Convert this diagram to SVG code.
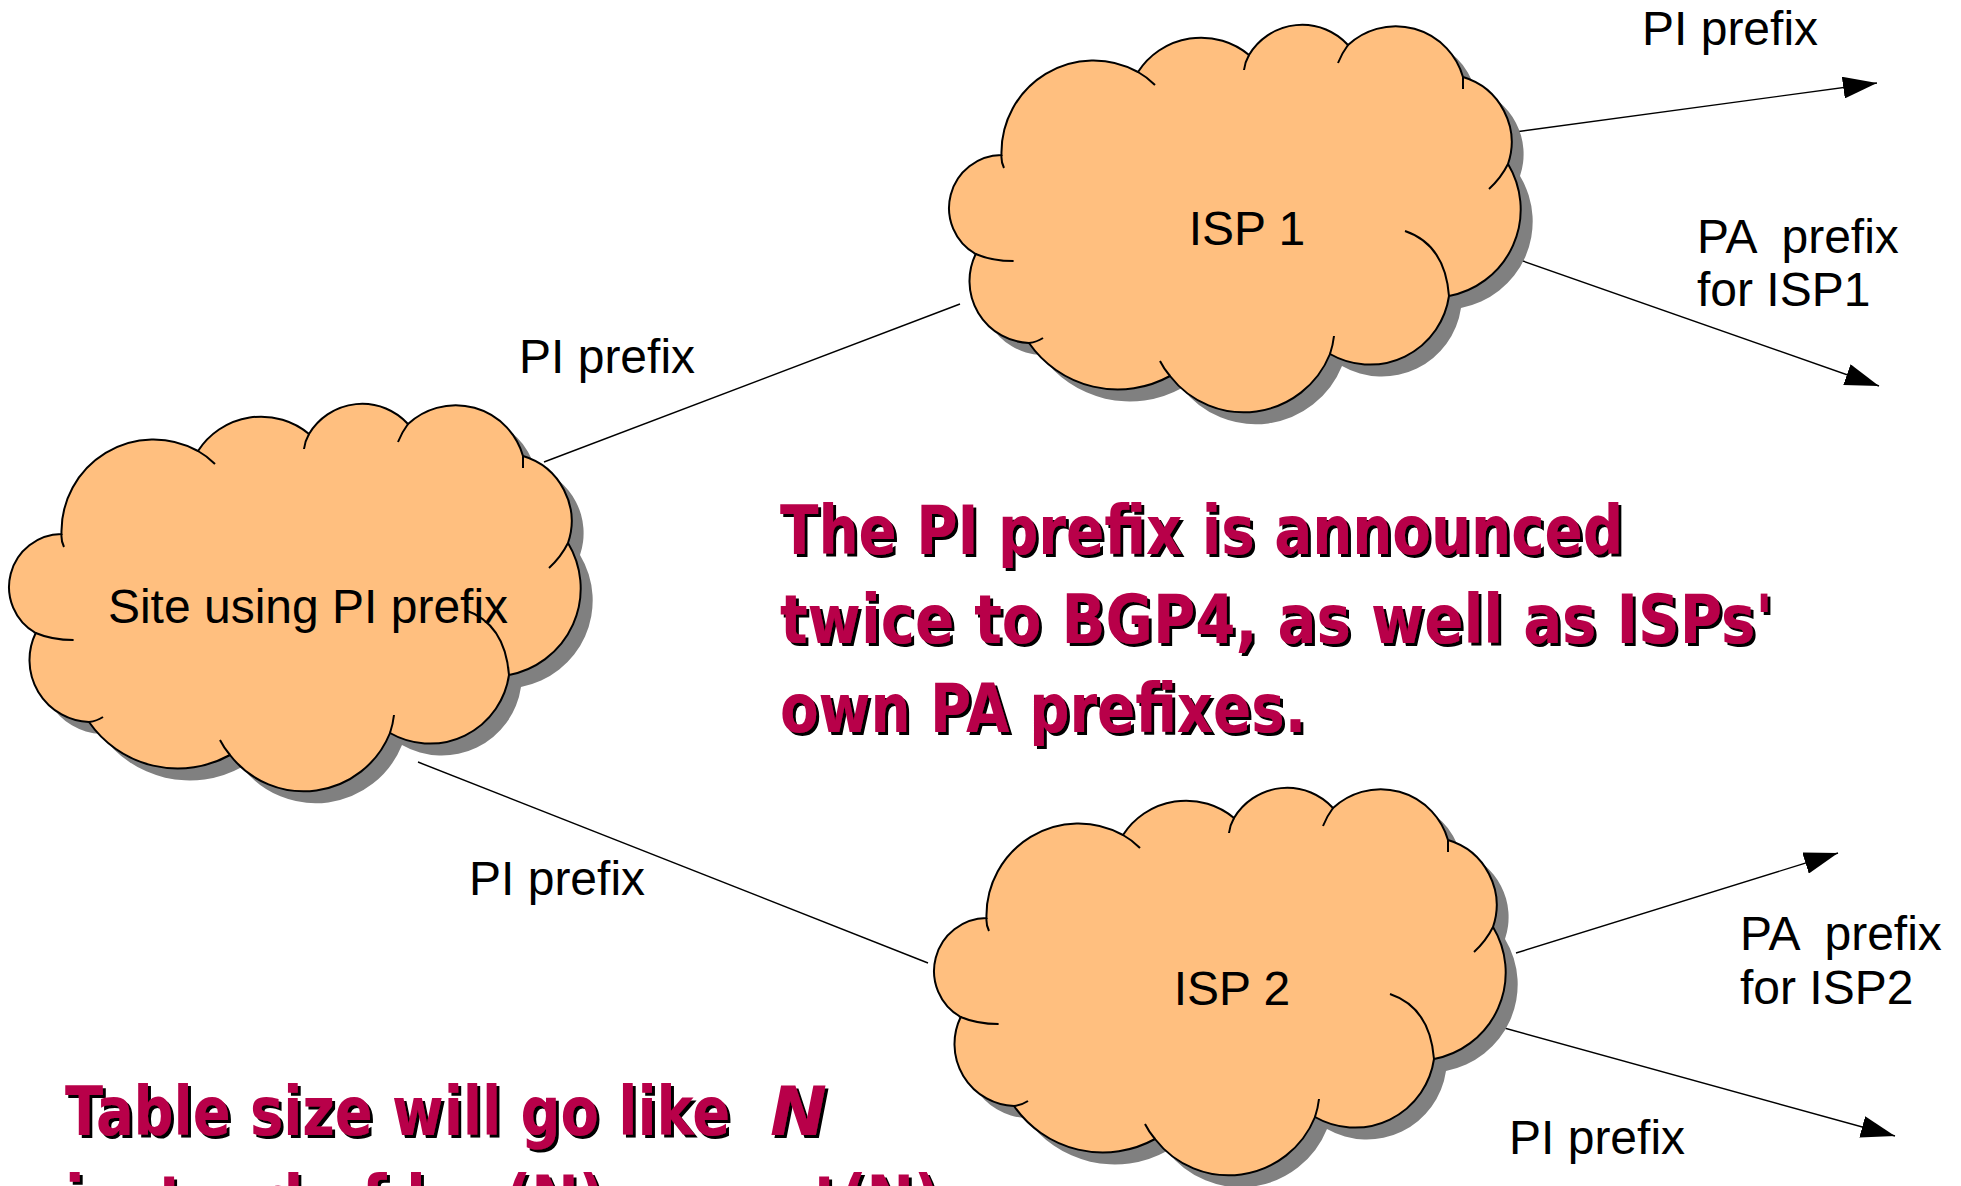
<svg xmlns="http://www.w3.org/2000/svg" xmlns:xlink="http://www.w3.org/1999/xlink" width="1961" height="1186" viewBox="0 0 1961 1186">
<style>
.lbl{font-family:"Liberation Sans",Arial,sans-serif;font-size:48px;fill:#000;white-space:pre}
.ctr{text-anchor:middle}
.conn{stroke:#000;stroke-width:1.4;fill:none}
.cl{fill:#ffbf7f;stroke:#000;stroke-width:2}
.hk{fill:none;stroke:#000;stroke-width:2}
.sh{fill:#808080}
.big{font-family:"Comic Sans MS","DejaVu Sans",sans-serif;font-weight:bold;font-size:68px;fill:#b80048;filter:url(#tshadow)}
.it{font-style:italic}
</style>
<defs>
<filter id="tshadow" x="-5%" y="-20%" width="110%" height="140%">
<feDropShadow dx="3" dy="3" stdDeviation="0" flood-color="#000" flood-opacity="1"/>
</filter>
<path id="cloudOutline" d="M 51.5 130 A 92 92 0 0 1 188 47 A 75 75 0 0 1 299 30 A 62 62 0 0 1 398 20 A 70 70 0 0 1 513 52 A 68 68 0 0 1 558 139 A 88 88 0 0 1 499 271 A 80 80 0 0 1 380 329 A 93 93 0 0 1 220 351 A 108 108 0 0 1 79 318 A 62 62 0 0 1 25.7 229 A 53 53 0 0 1 51.5 130 Z"/>
<path id="cloudHooks" d="M 51.5 130 Q 51 137 54 143 M 188 47 Q 197 52 205 60 M 299 30 Q 295 37 294 45 M 398 20 Q 392 28 388 38 M 513 52 L 513 64 M 558 139 Q 551 153 539 164 M 455 206 Q 495 219.5 499 271 M 380 329 Q 383 320 384 311 M 220 351 Q 214 344 210 336 M 79 318 Q 87 317 93 313 M 25.7 229 Q 42 236 63.6 236"/>
<g id="cloud">
<use xlink:href="#cloudOutline" class="sh" transform="translate(12,12)"/>
<use xlink:href="#cloudOutline" class="cl"/>
<use xlink:href="#cloudHooks" class="hk"/>
</g>
<marker id="arr" markerWidth="36" markerHeight="22" refX="34" refY="11" orient="auto" markerUnits="userSpaceOnUse">
<path d="M0,0 L34,11 L0,22 Z" fill="#000"/>
</marker>
</defs>
<rect width="1961" height="1186" fill="#fff"/>
<g id="connectors">
<line class="conn" x1="544" y1="462" x2="960" y2="304"/>
<line class="conn" x1="418" y1="762" x2="928" y2="963"/>
<line class="conn" x1="1515" y1="132" x2="1877" y2="83" marker-end="url(#arr)"/>
<line class="conn" x1="1520" y1="260" x2="1879" y2="386" marker-end="url(#arr)"/>
<line class="conn" x1="1516" y1="953" x2="1838" y2="853" marker-end="url(#arr)"/>
<line class="conn" x1="1497" y1="1026" x2="1895" y2="1136" marker-end="url(#arr)"/>
</g>
<g id="isp1">
<use xlink:href="#cloud" transform="translate(950,25)"/>
<text class="lbl ctr" x="1247" y="245">ISP 1</text>
</g>
<g id="site">
<use xlink:href="#cloud" transform="translate(10,404)"/>
<text class="lbl ctr" x="308" y="623">Site using PI prefix</text>
</g>
<g id="isp2">
<use xlink:href="#cloud" transform="translate(935,788)"/>
<text class="lbl ctr" x="1232" y="1005">ISP 2</text>
</g>
<g id="labels">
<text class="lbl" x="1642" y="45">PI prefix</text>
<text class="lbl" x="1697" y="253">PA  prefix</text>
<text class="lbl" x="1697" y="306">for ISP1</text>
<text class="lbl" x="519" y="373">PI prefix</text>
<text class="lbl" x="469" y="895">PI prefix</text>
<text class="lbl" x="1740" y="950">PA  prefix</text>
<text class="lbl" x="1740" y="1004">for ISP2</text>
<text class="lbl" x="1509" y="1154">PI prefix</text>
</g>
<g id="note">
<text class="big" x="780" y="554" textLength="843" lengthAdjust="spacingAndGlyphs">The PI prefix is announced</text>
<text class="big" x="780" y="643" textLength="993" lengthAdjust="spacingAndGlyphs">twice to BGP4, as well as ISPs'</text>
<text class="big" x="780" y="732" textLength="526" lengthAdjust="spacingAndGlyphs">own PA prefixes.</text>
</g>
<g id="table-note">
<text class="big" x="65" y="1135" textLength="665" lengthAdjust="spacingAndGlyphs">Table size will go like</text>
<text class="big it" x="770" y="1135">N</text>
<text class="big" x="65" y="1224" textLength="875" lengthAdjust="spacingAndGlyphs">instead of log(N) or sqrt(N)</text>
</g>
</svg>
